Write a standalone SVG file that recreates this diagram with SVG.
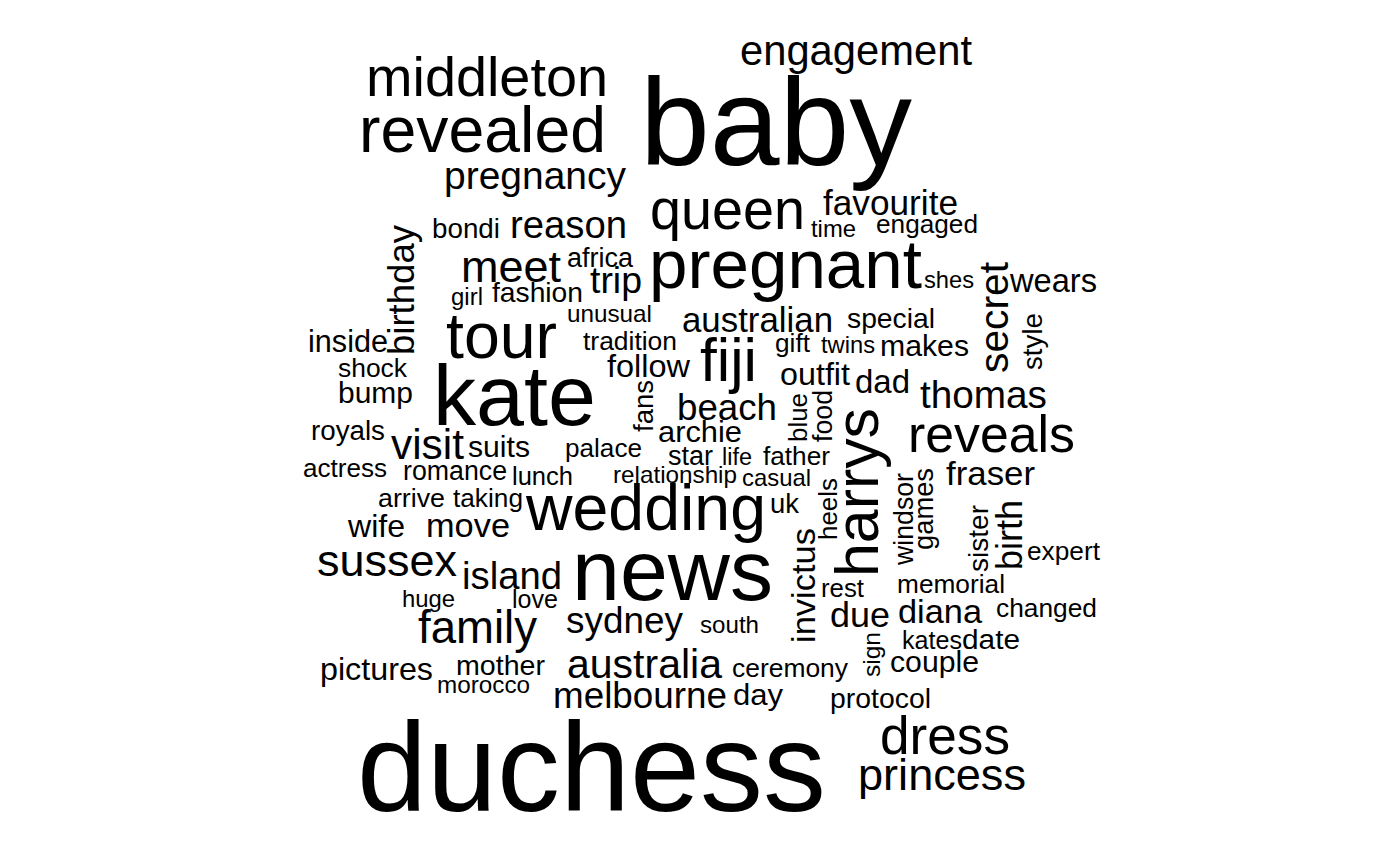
<svg xmlns="http://www.w3.org/2000/svg" width="1400" height="865" viewBox="0 0 1400 865">
<style>
text{font-family:"Liberation Sans",Arial,Helvetica,sans-serif;fill:#000;lengthAdjust:spacingAndGlyphs}
</style>
<rect width="1400" height="865" fill="#fff"/>
<g id="cloud">
<text x="640" y="165" font-size="125" textLength="272" lengthAdjust="spacingAndGlyphs">baby</text>
<text x="357" y="811" font-size="127" textLength="469" lengthAdjust="spacingAndGlyphs">duchess</text>
<text x="572" y="600" font-size="86" textLength="201" lengthAdjust="spacingAndGlyphs">news</text>
<text x="433" y="425" font-size="86" textLength="163" lengthAdjust="spacingAndGlyphs">kate</text>
<text x="649" y="288" font-size="69" textLength="273" lengthAdjust="spacingAndGlyphs">pregnant</text>
<text x="526" y="530" font-size="64" textLength="240" lengthAdjust="spacingAndGlyphs">wedding</text>
<text transform="translate(878,577) rotate(-90)" font-size="61" textLength="169" lengthAdjust="spacingAndGlyphs">harrys</text>
<text x="700" y="381" font-size="62" textLength="57" lengthAdjust="spacingAndGlyphs">fiji</text>
<text x="446" y="358" font-size="64" textLength="111" lengthAdjust="spacingAndGlyphs">tour</text>
<text x="650" y="229" font-size="57" textLength="155" lengthAdjust="spacingAndGlyphs">queen</text>
<text x="359" y="152" font-size="64" textLength="247" lengthAdjust="spacingAndGlyphs">revealed</text>
<text x="366" y="96" font-size="56" textLength="242" lengthAdjust="spacingAndGlyphs">middleton</text>
<text x="908" y="452" font-size="52" textLength="167" lengthAdjust="spacingAndGlyphs">reveals</text>
<text x="880" y="754" font-size="53" textLength="130" lengthAdjust="spacingAndGlyphs">dress</text>
<text x="858" y="790" font-size="45" textLength="168" lengthAdjust="spacingAndGlyphs">princess</text>
<text x="317" y="576" font-size="45" textLength="140" lengthAdjust="spacingAndGlyphs">sussex</text>
<text x="418" y="643" font-size="46" textLength="119" lengthAdjust="spacingAndGlyphs">family</text>
<text x="567" y="678" font-size="41" textLength="155" lengthAdjust="spacingAndGlyphs">australia</text>
<text x="566" y="633" font-size="37" textLength="117" lengthAdjust="spacingAndGlyphs">sydney</text>
<text x="553" y="708" font-size="37" textLength="174" lengthAdjust="spacingAndGlyphs">melbourne</text>
<text x="462" y="589" font-size="38" textLength="100" lengthAdjust="spacingAndGlyphs">island</text>
<text x="391" y="459" font-size="42" textLength="73" lengthAdjust="spacingAndGlyphs">visit</text>
<text x="461" y="282" font-size="45" textLength="100" lengthAdjust="spacingAndGlyphs">meet</text>
<text x="510" y="238" font-size="38" textLength="117" lengthAdjust="spacingAndGlyphs">reason</text>
<text x="432" y="238" font-size="28" textLength="68" lengthAdjust="spacingAndGlyphs">bondi</text>
<text x="444" y="189" font-size="39" textLength="182" lengthAdjust="spacingAndGlyphs">pregnancy</text>
<text x="740" y="65" font-size="42" textLength="232" lengthAdjust="spacingAndGlyphs">engagement</text>
<text x="823" y="215" font-size="35" textLength="135" lengthAdjust="spacingAndGlyphs">favourite</text>
<text x="811" y="237" font-size="24" textLength="45" lengthAdjust="spacingAndGlyphs">time</text>
<text x="876" y="233" font-size="26" textLength="102" lengthAdjust="spacingAndGlyphs">engaged</text>
<text x="924" y="288" font-size="24" textLength="50" lengthAdjust="spacingAndGlyphs">shes</text>
<text x="1010" y="292" font-size="33" textLength="87" lengthAdjust="spacingAndGlyphs">wears</text>
<text transform="translate(1008,373) rotate(-90)" font-size="41" textLength="111" lengthAdjust="spacingAndGlyphs">secret</text>
<text transform="translate(1042,370) rotate(-90)" font-size="28" textLength="57" lengthAdjust="spacingAndGlyphs">style</text>
<text transform="translate(414,355) rotate(-90)" font-size="36" textLength="130" lengthAdjust="spacingAndGlyphs">birthday</text>
<text x="308" y="352" font-size="31" textLength="80" lengthAdjust="spacingAndGlyphs">inside</text>
<text x="338" y="377" font-size="26" textLength="69" lengthAdjust="spacingAndGlyphs">shock</text>
<text x="338" y="403" font-size="30" textLength="75" lengthAdjust="spacingAndGlyphs">bump</text>
<text x="311" y="440" font-size="27" textLength="74" lengthAdjust="spacingAndGlyphs">royals</text>
<text x="468" y="457" font-size="30" textLength="62" lengthAdjust="spacingAndGlyphs">suits</text>
<text x="303" y="477" font-size="26" textLength="84" lengthAdjust="spacingAndGlyphs">actress</text>
<text x="403" y="480" font-size="27" textLength="104" lengthAdjust="spacingAndGlyphs">romance</text>
<text x="512" y="485" font-size="26" textLength="61" lengthAdjust="spacingAndGlyphs">lunch</text>
<text x="565" y="457" font-size="26" textLength="77" lengthAdjust="spacingAndGlyphs">palace</text>
<text x="567" y="267" font-size="27" textLength="66" lengthAdjust="spacingAndGlyphs">africa</text>
<text x="590" y="293" font-size="36" textLength="52" lengthAdjust="spacingAndGlyphs">trip</text>
<text x="451" y="305" font-size="23" textLength="32" lengthAdjust="spacingAndGlyphs">girl</text>
<text x="492" y="302" font-size="28" textLength="91" lengthAdjust="spacingAndGlyphs">fashion</text>
<text x="567" y="322" font-size="24" textLength="85" lengthAdjust="spacingAndGlyphs">unusual</text>
<text x="583" y="350" font-size="26" textLength="94" lengthAdjust="spacingAndGlyphs">tradition</text>
<text x="607" y="377" font-size="32" textLength="83" lengthAdjust="spacingAndGlyphs">follow</text>
<text transform="translate(653,432) rotate(-90)" font-size="27" textLength="52" lengthAdjust="spacingAndGlyphs">fans</text>
<text x="682" y="332" font-size="35" textLength="151" lengthAdjust="spacingAndGlyphs">australian</text>
<text x="847" y="328" font-size="28" textLength="88" lengthAdjust="spacingAndGlyphs">special</text>
<text x="775" y="352" font-size="25" textLength="35" lengthAdjust="spacingAndGlyphs">gift</text>
<text x="821" y="353" font-size="24" textLength="54" lengthAdjust="spacingAndGlyphs">twins</text>
<text x="880" y="356" font-size="30" textLength="89" lengthAdjust="spacingAndGlyphs">makes</text>
<text x="780" y="385" font-size="31" textLength="70" lengthAdjust="spacingAndGlyphs">outfit</text>
<text x="855" y="393" font-size="33" textLength="55" lengthAdjust="spacingAndGlyphs">dad</text>
<text x="920" y="408" font-size="39" textLength="127" lengthAdjust="spacingAndGlyphs">thomas</text>
<text x="677" y="420" font-size="36" textLength="100" lengthAdjust="spacingAndGlyphs">beach</text>
<text x="658" y="442" font-size="30" textLength="84" lengthAdjust="spacingAndGlyphs">archie</text>
<text transform="translate(807,442) rotate(-90)" font-size="26" textLength="49" lengthAdjust="spacingAndGlyphs">blue</text>
<text transform="translate(832,442) rotate(-90)" font-size="27" textLength="52" lengthAdjust="spacingAndGlyphs">food</text>
<text x="668" y="465" font-size="27" textLength="45" lengthAdjust="spacingAndGlyphs">star</text>
<text x="722" y="465" font-size="23" textLength="30" lengthAdjust="spacingAndGlyphs">life</text>
<text x="763" y="465" font-size="26" textLength="67" lengthAdjust="spacingAndGlyphs">father</text>
<text x="613" y="483" font-size="24" textLength="124" lengthAdjust="spacingAndGlyphs">relationship</text>
<text x="742" y="486" font-size="24" textLength="69" lengthAdjust="spacingAndGlyphs">casual</text>
<text x="770" y="513" font-size="27" textLength="29" lengthAdjust="spacingAndGlyphs">uk</text>
<text transform="translate(837,540) rotate(-90)" font-size="26" textLength="62" lengthAdjust="spacingAndGlyphs">heels</text>
<text transform="translate(815,643) rotate(-90)" font-size="34" textLength="115" lengthAdjust="spacingAndGlyphs">invictus</text>
<text transform="translate(913,565) rotate(-90)" font-size="27" textLength="92" lengthAdjust="spacingAndGlyphs">windsor</text>
<text transform="translate(933,550) rotate(-90)" font-size="27" textLength="82" lengthAdjust="spacingAndGlyphs">games</text>
<text x="946" y="485" font-size="34" textLength="89" lengthAdjust="spacingAndGlyphs">fraser</text>
<text transform="translate(988,572) rotate(-90)" font-size="28" textLength="67" lengthAdjust="spacingAndGlyphs">sister</text>
<text transform="translate(1022,570) rotate(-90)" font-size="36" textLength="70" lengthAdjust="spacingAndGlyphs">birth</text>
<text x="1027" y="560" font-size="26" textLength="73" lengthAdjust="spacingAndGlyphs">expert</text>
<text x="821" y="597" font-size="26" textLength="43" lengthAdjust="spacingAndGlyphs">rest</text>
<text x="897" y="593" font-size="26" textLength="108" lengthAdjust="spacingAndGlyphs">memorial</text>
<text x="830" y="627" font-size="35" textLength="60" lengthAdjust="spacingAndGlyphs">due</text>
<text x="898" y="623" font-size="34" textLength="84" lengthAdjust="spacingAndGlyphs">diana</text>
<text x="996" y="617" font-size="26" textLength="101" lengthAdjust="spacingAndGlyphs">changed</text>
<text x="700" y="633" font-size="24" textLength="59" lengthAdjust="spacingAndGlyphs">south</text>
<text transform="translate(880,677) rotate(-90)" font-size="24" textLength="45" lengthAdjust="spacingAndGlyphs">sign</text>
<text x="902" y="649" font-size="26" textLength="60" lengthAdjust="spacingAndGlyphs">kates</text>
<text x="962" y="649" font-size="27" textLength="58" lengthAdjust="spacingAndGlyphs">date</text>
<text x="890" y="672" font-size="29" textLength="89" lengthAdjust="spacingAndGlyphs">couple</text>
<text x="732" y="677" font-size="26" textLength="116" lengthAdjust="spacingAndGlyphs">ceremony</text>
<text x="733" y="705" font-size="29" textLength="50" lengthAdjust="spacingAndGlyphs">day</text>
<text x="830" y="708" font-size="28" textLength="101" lengthAdjust="spacingAndGlyphs">protocol</text>
<text x="402" y="607" font-size="24" textLength="53" lengthAdjust="spacingAndGlyphs">huge</text>
<text x="512" y="608" font-size="25" textLength="46" lengthAdjust="spacingAndGlyphs">love</text>
<text x="320" y="680" font-size="32" textLength="113" lengthAdjust="spacingAndGlyphs">pictures</text>
<text x="456" y="675" font-size="28" textLength="89" lengthAdjust="spacingAndGlyphs">mother</text>
<text x="437" y="693" font-size="24" textLength="93" lengthAdjust="spacingAndGlyphs">morocco</text>
<text x="378" y="507" font-size="26" textLength="67" lengthAdjust="spacingAndGlyphs">arrive</text>
<text x="453" y="507" font-size="26" textLength="70" lengthAdjust="spacingAndGlyphs">taking</text>
<text x="348" y="537" font-size="32" textLength="57" lengthAdjust="spacingAndGlyphs">wife</text>
<text x="426" y="537" font-size="33" textLength="84" lengthAdjust="spacingAndGlyphs">move</text>
</g>
</svg>
